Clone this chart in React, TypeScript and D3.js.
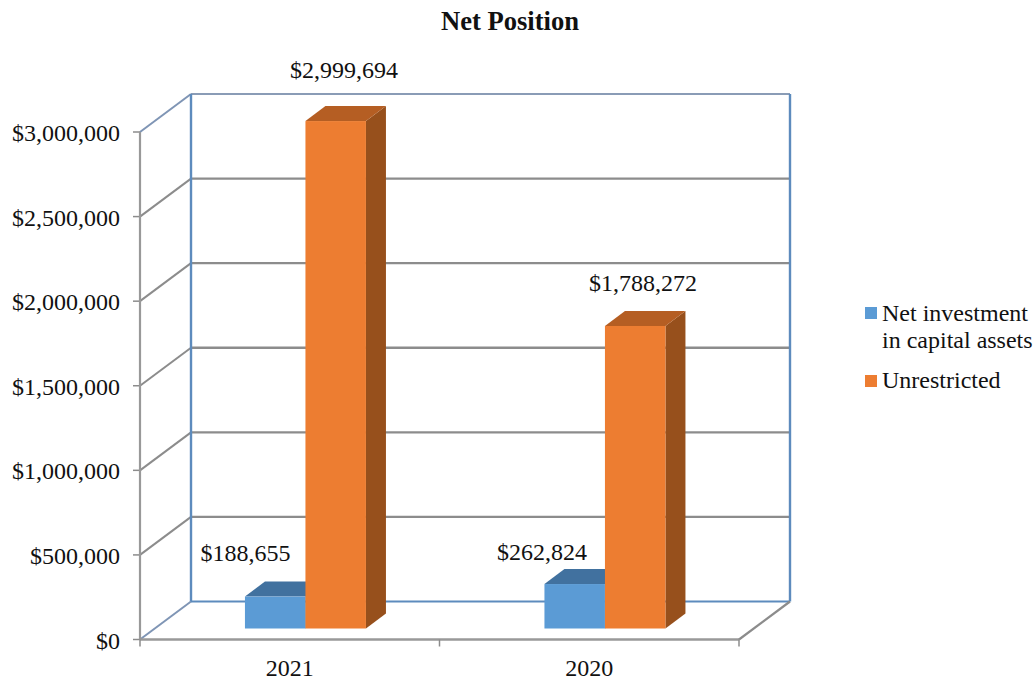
import React from "react";
import * as d3 from "d3";

const categories = ["2021", "2020"];
const seriesNames = ["Net investment", "Unrestricted"];
const netInvestment = [188655, 262824];
const unrestricted = [2999694, 1788272];
const yTicks = [0, 500000, 1000000, 1500000, 2000000, 2500000, 3000000];
const barColors = [
  { front: "#5b9bd5", top: "#41719f", side: "#3d6a94" },
  { front: "#ed7d31", top: "#b55e23", side: "#97501c" },
];

const FONT = "'Liberation Serif', serif";
const GRID = "#8c8c8c";
const WALL = "#5d8bbd";

export default function App() {
  const x = d3.scaleBand<string>().domain(categories).range([140, 739]);
  const y = d3.scaleLinear().domain([0, 3000000]).range([639.5, 132]);
  const fmt = (v: number) => "$" + d3.format(",")(v);
  const depth = { dx: 51, dy: -38 };
  const barDepth = { dx: 20, dy: -15 };
  const floorInset = { dx: 0, dy: -11 };
  const barW = 60.5;
  const backX0 = 140 + depth.dx;
  const backX1 = 739 + depth.dx;

  const labelPos = [
    [{ x: 245.5, y: 560.5 }, { x: 344, y: 77.5 }],
    [{ x: 542, y: 560 }, { x: 643, y: 290.5 }],
  ];

  const bars = categories.flatMap((c, ci) => {
    const center = x(c)! + x.bandwidth() / 2 + 15.7;
    return [netInvestment[ci], unrestricted[ci]].map((v, si) => {
      const x0 = center + (si - 1) * barW;
      const x1 = x0 + barW;
      const yb = y(0) + floorInset.dy;
      const yt = y(v) + floorInset.dy;
      return { key: c + si, si, x0, x1, yb, yt };
    });
  });

  return (
    <svg width={1036} height={679} style={{ position: "absolute", left: 0, top: 0, background: "#fff" }} fontFamily={FONT} fill="#111">
      <text x={510} y={30} textAnchor="middle" fontSize={26.6} fontWeight="bold">Net Position</text>

      {yTicks.map((t) => (
        <g key={t}>
          {t > 0 && t < 3000000 && (
            <line x1={backX0} x2={backX1} y1={y(t) + depth.dy} y2={y(t) + depth.dy} stroke={GRID} strokeWidth={2.4} />
          )}
          <line x1={140} x2={backX0} y1={y(t)} y2={y(t) + depth.dy} stroke={t === 0 || t === 3000000 ? "#7f95b5" : GRID} strokeWidth={2} />
          <line x1={133} x2={140} y1={y(t)} y2={y(t)} stroke={GRID} strokeWidth={1.5} />
          <text x={120} y={y(t) + 9} textAnchor="end" fontSize={24}>{fmt(t)}</text>
        </g>
      ))}

      <line x1={backX0} x2={backX1} y1={y(3000000) + depth.dy} y2={y(3000000) + depth.dy} stroke="#8a9cb6" strokeWidth={2.2} />
      <line x1={backX0} x2={backX1} y1={y(0) + depth.dy} y2={y(0) + depth.dy} stroke={WALL} strokeWidth={2.2} />
      <line x1={backX0} x2={backX0} y1={y(3000000) + depth.dy} y2={y(0) + depth.dy} stroke={WALL} strokeWidth={2.4} />
      <line x1={backX1} x2={backX1} y1={y(3000000) + depth.dy} y2={y(0) + depth.dy} stroke={WALL} strokeWidth={2.4} />

      <line x1={140} x2={140} y1={y(3000000)} y2={y(0)} stroke="#999" strokeWidth={2.2} />
      <line x1={140} x2={739} y1={y(0)} y2={y(0)} stroke="#999" strokeWidth={2.4} />
      <line x1={739} x2={backX1} y1={y(0)} y2={y(0) + depth.dy} stroke={GRID} strokeWidth={2.2} />
      {[140, x("2020")!, 739].map((tx) => (
        <line key={tx} x1={tx} x2={tx} y1={y(0)} y2={y(0) + 7} stroke={GRID} strokeWidth={1.5} />
      ))}

      {bars.map((b) => (
        <g key={b.key}>
          <polygon
            points={[[b.x1, b.yt], [b.x1 + barDepth.dx, b.yt + barDepth.dy], [b.x1 + barDepth.dx, b.yb + barDepth.dy], [b.x1, b.yb]].join(" ")}
            fill={barColors[b.si].side}
          />
          <polygon
            points={[[b.x0, b.yt], [b.x0 + barDepth.dx, b.yt + barDepth.dy], [b.x1 + barDepth.dx, b.yt + barDepth.dy], [b.x1, b.yt]].join(" ")}
            fill={barColors[b.si].top}
          />
          <rect x={b.x0} y={b.yt} width={b.x1 - b.x0} height={b.yb - b.yt} fill={barColors[b.si].front} />
        </g>
      ))}

      {categories.map((c, ci) => (
        <g key={c}>
          <text x={x(c)! + x.bandwidth() / 2} y={676} textAnchor="middle" fontSize={24}>{c}</text>
          <text x={labelPos[ci][0].x} y={labelPos[ci][0].y} textAnchor="middle" fontSize={24}>{fmt(netInvestment[ci])}</text>
          <text x={labelPos[ci][1].x} y={labelPos[ci][1].y} textAnchor="middle" fontSize={24}>{fmt(unrestricted[ci])}</text>
        </g>
      ))}

      <rect x={865} y={307} width={12} height={12} fill={barColors[0].front} />
      <text x={882} y={321} fontSize={24}>{seriesNames[0]}</text>
      <text x={882} y={348} fontSize={24}>in capital assets</text>
      <rect x={865} y={375} width={12} height={12} fill={barColors[1].front} />
      <text x={882} y={388} fontSize={24}>{seriesNames[1]}</text>
    </svg>
  );
}
